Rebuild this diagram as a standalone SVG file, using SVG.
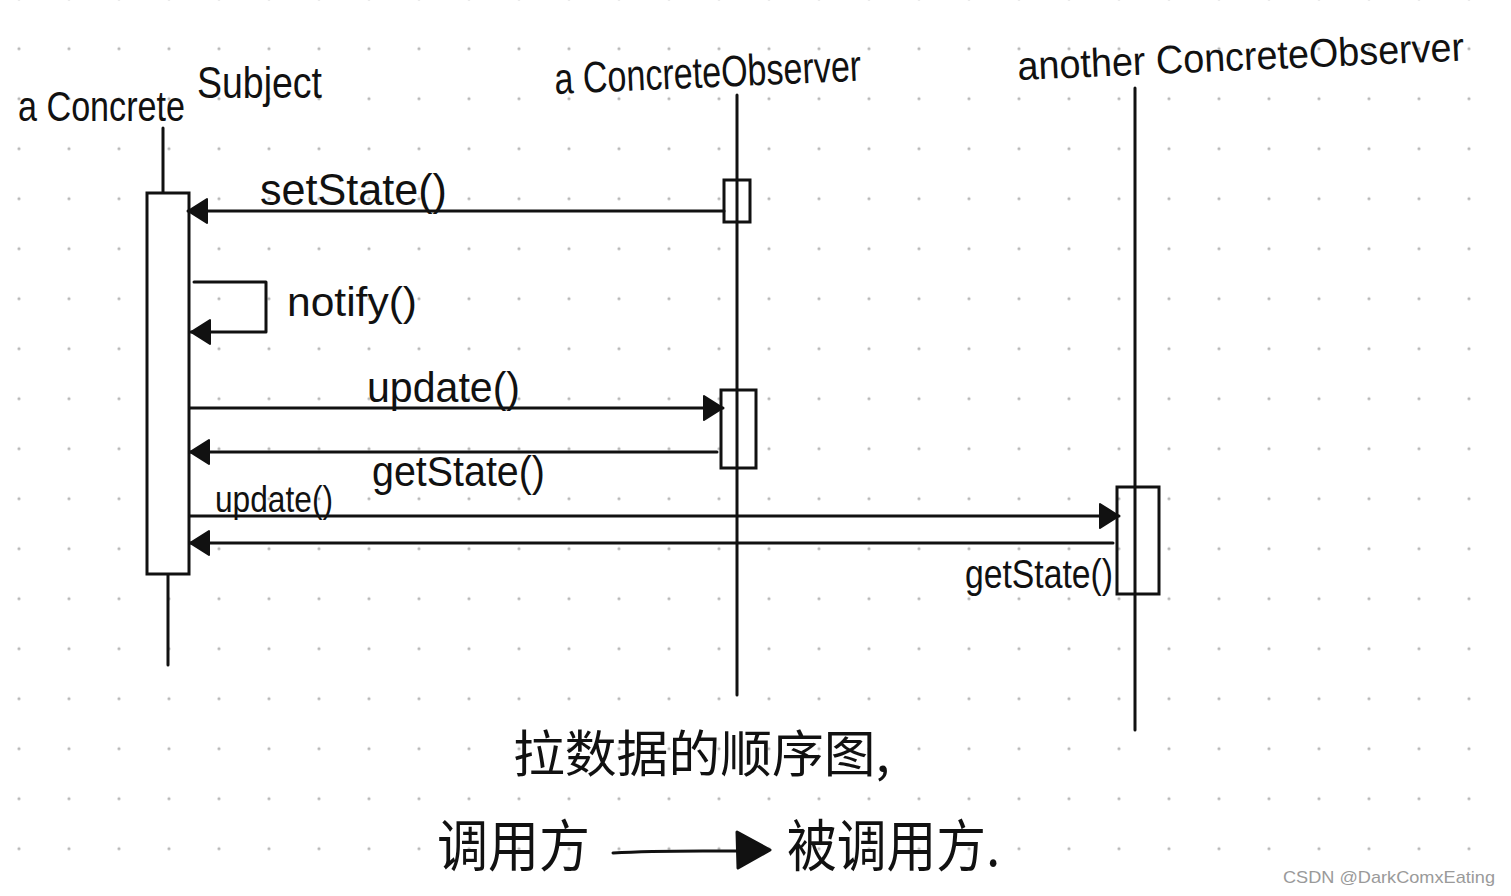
<svg xmlns="http://www.w3.org/2000/svg" width="1511" height="896" viewBox="0 0 1511 896">
<style>
.ln{stroke:#111;stroke-width:3;fill:none;stroke-linecap:round;stroke-linejoin:round}
.box{stroke:#111;stroke-width:3;fill:#fff}
.hw{font-family:"Liberation Sans","Noto Sans",sans-serif;fill:#111}
.cjk{font-family:"Noto Sans CJK SC",sans-serif;fill:#111}
.wm{font-family:"Liberation Sans",Arial,sans-serif;fill:#9a9a9a;font-size:17px}
</style>
<defs>
<pattern id="dots" patternUnits="userSpaceOnUse" x="-6" y="-26.3" width="50" height="50">
<circle cx="25" cy="25" r="1.6" fill="#b8b8b8"/>
</pattern>
<marker id="ah" markerUnits="userSpaceOnUse" markerWidth="22" markerHeight="28" refX="20" refY="13" orient="auto">
<path d="M1,1 L20,13 L1,25 Z" fill="#111" stroke="#111" stroke-width="2" stroke-linejoin="round"/>
</marker>
</defs>
<rect width="1511" height="896" fill="#fff"/>
<rect width="1511" height="896" fill="url(#dots)"/>

<g id="subject">
<line class="ln" x1="163" y1="128" x2="163" y2="193"/>
<line class="ln" x1="168" y1="574" x2="168" y2="665"/>
<rect class="box" x="147" y="193" width="42" height="381"/>
<text class="hw" x="18" y="121" font-size="42" textLength="167" lengthAdjust="spacingAndGlyphs">a Concrete</text>
<text class="hw" x="197" y="98" font-size="44" textLength="125" lengthAdjust="spacingAndGlyphs">Subject</text>
</g>

<g id="observer">
<line class="ln" x1="737" y1="95" x2="737" y2="695"/>
<rect class="box" x="724" y="180" width="26" height="42" style="fill:none"/>
<rect class="box" x="721" y="390" width="35" height="78" style="fill:none"/>
<text class="hw" x="555" y="94" font-size="44" textLength="307" lengthAdjust="spacingAndGlyphs" transform="rotate(-2.5 555 94)">a ConcreteObserver</text>
</g>

<g id="another">
<line class="ln" x1="1135" y1="88" x2="1135" y2="730"/>
<rect class="box" x="1117" y="487" width="42" height="107" style="fill:none"/>
<text class="hw" x="1018" y="80" font-size="40" textLength="447" lengthAdjust="spacingAndGlyphs" transform="rotate(-2.5 1018 80)">another ConcreteObserver</text>
</g>

<g id="connectors">
<line class="ln" x1="724" y1="211" x2="188" y2="211" marker-end="url(#ah)"/>
<path class="ln" d="M194,282 H266 V332 H191" marker-end="url(#ah)"/>
<line class="ln" x1="190" y1="408" x2="723" y2="408" marker-end="url(#ah)"/>
<line class="ln" x1="717" y1="452" x2="190" y2="452" marker-end="url(#ah)"/>
<line class="ln" x1="190" y1="516" x2="1119" y2="516" marker-end="url(#ah)"/>
<line class="ln" x1="1113" y1="543" x2="190" y2="543" marker-end="url(#ah)"/>
<path class="ln" d="M613,853 C660,850 700,851 745,851"/>
<path d="M737,832 L770,850 L738,868 Z" fill="#111" stroke="#111" stroke-width="3" stroke-linejoin="round"/>
</g>

<g id="labels">
<text class="hw" x="260" y="205" font-size="44" textLength="187" lengthAdjust="spacingAndGlyphs">setState()</text>
<text class="hw" x="287" y="316" font-size="40" textLength="130" lengthAdjust="spacingAndGlyphs">notify()</text>
<text class="hw" x="367" y="402" font-size="42" textLength="153" lengthAdjust="spacingAndGlyphs">update()</text>
<text class="hw" x="372" y="486" font-size="42" textLength="173" lengthAdjust="spacingAndGlyphs">getState()</text>
<text class="hw" x="215" y="512" font-size="36" textLength="118" lengthAdjust="spacingAndGlyphs">update()</text>
<text class="hw" x="965" y="588" font-size="40" textLength="148" lengthAdjust="spacingAndGlyphs">getState()</text>
</g>

<g id="caption">
<text class="cjk" x="513" y="772" font-size="50" textLength="377" lengthAdjust="spacingAndGlyphs">拉数据的顺序图,</text>
<text class="cjk" x="437" y="866" font-size="56" textLength="153" lengthAdjust="spacingAndGlyphs">调用方</text>
<text class="cjk" x="787" y="866" font-size="56" textLength="213" lengthAdjust="spacingAndGlyphs">被调用方.</text>
</g>

<text class="wm" x="1283" y="883" textLength="212" lengthAdjust="spacingAndGlyphs">CSDN @DarkComxEating</text>
</svg>
